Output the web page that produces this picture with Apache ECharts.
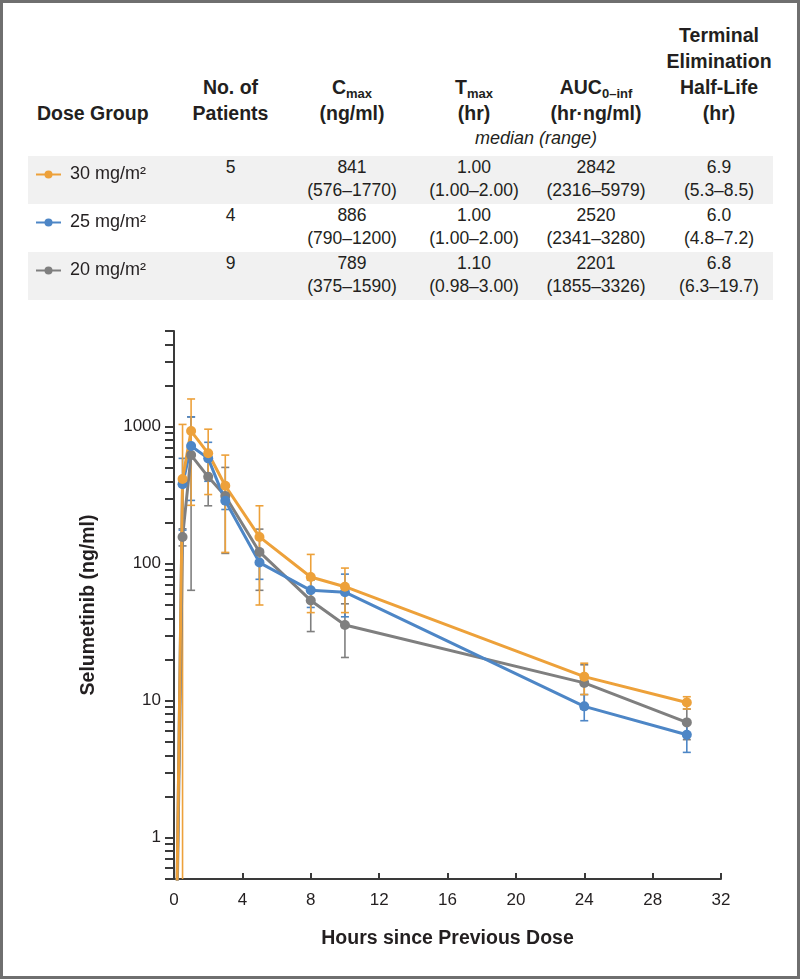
<!DOCTYPE html>
<html>
<head>
<meta charset="utf-8">
<script src="https://cdn.jsdelivr.net/npm/echarts@6/dist/echarts.min.js"></script>
<style>
  html, body { margin: 0; padding: 0; background: #fff; }
  #page { position: relative; width: 800px; height: 979px; font-family: "Liberation Sans", Arial, sans-serif; color: #231f20; }
  #frame { position: absolute; left: 0; top: 0; width: 800px; height: 979px; box-sizing: border-box; border: 3px solid #6f6f6f; }
  #stats { position: absolute; left: 28px; top: 22px; width: 745px; border-collapse: collapse; table-layout: fixed; }
  #stats td { padding: 0; text-align: center; font-size: 17.5px; }
  #stats tr.head td { height: 104px; vertical-align: bottom; line-height: 26px; font-weight: bold; font-size: 19.5px; }
  #stats tr.head td:first-child { text-align: left; padding-left: 9px; }
  #stats tr.note td { height: 30px; vertical-align: top; line-height: 24px; font-style: italic; font-size: 18px; }
  #stats tr.row td { height: 48px; vertical-align: top; line-height: 23px; }
  #stats tr.band td { background: #f1f1f1; }
  #stats td:last-child { padding-left: 8px; }
  #stats sub { font-size: 13px; vertical-align: -4px; line-height: 0; }
  #chart { position: absolute; left: 0; top: 0; width: 800px; height: 979px; z-index: 2; }
</style>
</head>
<body>
<div id="page">
  <div id="frame"></div>
  <table id="stats">
    <colgroup>
      <col style="width:142px"><col style="width:121px"><col style="width:122px">
      <col style="width:122px"><col style="width:122px"><col>
    </colgroup>
    <tr class="head">
      <td>Dose Group</td>
      <td>No. of<br>Patients</td>
      <td>C<sub>max</sub><br>(ng/ml)</td>
      <td>T<sub>max</sub><br>(hr)</td>
      <td>AUC<sub>0–inf</sub><br>(hr·ng/ml)</td>
      <td>Terminal<br>Elimination<br>Half-Life<br>(hr)</td>
    </tr>
    <tr class="note">
      <td></td><td></td><td colspan="4">median (range)</td>
    </tr>
    <tr class="row band">
      <td></td><td>5</td><td>841<br>(576–1770)</td><td>1.00<br>(1.00–2.00)</td><td>2842<br>(2316–5979)</td><td>6.9<br>(5.3–8.5)</td>
    </tr>
    <tr class="row">
      <td></td><td>4</td><td>886<br>(790–1200)</td><td>1.00<br>(1.00–2.00)</td><td>2520<br>(2341–3280)</td><td>6.0<br>(4.8–7.2)</td>
    </tr>
    <tr class="row band">
      <td></td><td>9</td><td>789<br>(375–1590)</td><td>1.10<br>(0.98–3.00)</td><td>2201<br>(1855–3326)</td><td>6.8<br>(6.3–19.7)</td>
    </tr>
  </table>
  <div id="chart"></div>
</div>
<script>
// sampling times (hr); the 0 hr value sits below the axis floor
const HOURS = [0, 0.5, 1, 2, 3, 5, 8, 10, 24, 30]

const GROUPS = ['30 mg/m²', '25 mg/m²', '20 mg/m²']
const COLORS = ['#eda13a', '#4d86c6', '#7f7f7f']

// mean concentration (ng/ml) and error bar ends
const MEAN_30 = [0.01, 415, 930, 640, 371, 157, 80, 68, 15, 9.7]
const LOW_30 = [null, -210, 267, 320, 121, 50, 44, 44, 11.1, 8.7]
const HIGH_30 = [null, 1040, 1595, 960, 621, 265, 117, 93, 18.8, 10.7]

const MEAN_25 = [0.01, 380, 723, 588, 288, 102, 64, 62, 9.1, 5.65]
const LOW_25 = [null, 176, 290, 400, 249, 77, 48, 41, 7.15, 4.2]
const HIGH_25 = [null, 588, 1180, 770, 328, 127, 80, 84, 11.1, 7.1]

const MEAN_20 = [0.01, 157, 621, 431, 312, 122, 54, 35.7, 13.5, 6.95]
const LOW_20 = [null, 135, 64, 265, 119, 64, 32, 20.7, 8.7, 5.2]
const HIGH_20 = [null, 180, 1180, 597, 505, 179, 76, 51, 18.3, 8.7]

const Y_MIN = 0.5
const Y_MAX = 5000
const Y_LABELS = [1, 10, 100, 1000]
const X_TICKS = [0, 4, 8, 12, 16, 20, 24, 28, 32]

// log ticks: 1..9 in every decade inside the axis range
const yTicks = []
for (let d = 0.1; d <= 1000; d *= 10) {
  for (let k = 1; k <= 9; k++) {
    const v = +(k * d).toPrecision(3)
    if (v >= Y_MIN && v <= Y_MAX) yTicks.push(v)
  }
}

const FONT = '"Liberation Sans", Arial, sans-serif'
const INK = '#231f20'
const AXIS = '#3a3a3a'

const lineSeries = (name, color, mean) => ({
  name,
  type: 'line',
  z: 3,
  clip: true,
  symbol: 'circle',
  symbolSize: 10,
  lineStyle: { width: 3, color },
  itemStyle: { color },
  emphasis: { disabled: true },
  data: HOURS.map((h, i) => [h, mean[i]]),
})

const errorSeries = (name, color, low, high) => ({
  name: name + ' error',
  type: 'custom',
  z: 2,
  clip: true,
  silent: true,
  data: HOURS.map((h, i) => [h, low[i], high[i]]).filter(d => d[2] != null),
  encode: { x: 0, y: [1, 2] },
  renderItem(params, api) {
    const x = api.value(0)
    const lo = api.value(1)
    const hi = api.value(2)
    const below = lo <= 0
    const top = api.coord([x, hi])
    const bot = api.coord([x, below ? Y_MIN : lo])
    const style = { stroke: color, lineWidth: 1.6 }
    const cap = 4
    const children = [
      { type: 'line', shape: { x1: top[0], y1: top[1], x2: bot[0], y2: bot[1] }, style },
      { type: 'line', shape: { x1: top[0] - cap, y1: top[1], x2: top[0] + cap, y2: top[1] }, style },
    ]
    if (!below) {
      children.push({ type: 'line', shape: { x1: bot[0] - cap, y1: bot[1], x2: bot[0] + cap, y2: bot[1] }, style })
    }
    return { type: 'group', children }
  },
})

const chart = echarts.init(document.getElementById('chart'))

chart.setOption({
  animation: false,
  textStyle: { fontFamily: FONT, color: INK },
  legend: {
    data: GROUPS,
    orient: 'vertical',
    left: 35,
    top: 162.5,
    padding: 0,
    itemWidth: 25,
    itemHeight: 10,
    itemGap: 24,
    selectedMode: false,
    textStyle: { fontFamily: FONT, fontSize: 18, color: INK, lineHeight: 24, padding: [0, 0, 0, 4] },
  },
  grid: { left: 174, right: 79, top: 331, bottom: 100, containLabel: false },
  xAxis: {
    type: 'value',
    min: 0,
    max: 32,
    interval: 4,
    name: 'Hours since Previous Dose',
    nameLocation: 'middle',
    nameGap: 50,
    nameTextStyle: { fontFamily: FONT, fontSize: 19.5, fontWeight: 'bold', color: INK },
    axisLine: { lineStyle: { color: AXIS, width: 2 } },
    axisTick: { inside: true, length: 6, lineStyle: { color: AXIS, width: 2 }, customValues: X_TICKS },
    axisLabel: { fontSize: 17, color: INK, margin: 13, customValues: X_TICKS },
    splitLine: { show: false },
  },
  yAxis: {
    type: 'log',
    logBase: 10,
    min: Y_MIN,
    max: Y_MAX,
    name: 'Selumetinib (ng/ml)',
    nameLocation: 'middle',
    nameGap: 75,
    nameTextStyle: { fontFamily: FONT, fontSize: 19.5, fontWeight: 'bold', color: INK },
    axisLine: { show: true, lineStyle: { color: AXIS, width: 2 } },
    axisTick: { show: true, length: 9, lineStyle: { color: AXIS, width: 2 }, customValues: yTicks },
    axisLabel: {
      fontSize: 17,
      color: INK,
      margin: 13,
      customValues: Y_LABELS,
      formatter: v => String(Math.round(v)),
    },
    splitLine: { show: false },
    minorTick: { show: false },
  },
  series: [
    errorSeries(GROUPS[2], COLORS[2], LOW_20, HIGH_20),
    errorSeries(GROUPS[1], COLORS[1], LOW_25, HIGH_25),
    errorSeries(GROUPS[0], COLORS[0], LOW_30, HIGH_30),
    lineSeries(GROUPS[2], COLORS[2], MEAN_20),
    lineSeries(GROUPS[1], COLORS[1], MEAN_25),
    lineSeries(GROUPS[0], COLORS[0], MEAN_30),
  ],
})
</script>
</body>
</html>
